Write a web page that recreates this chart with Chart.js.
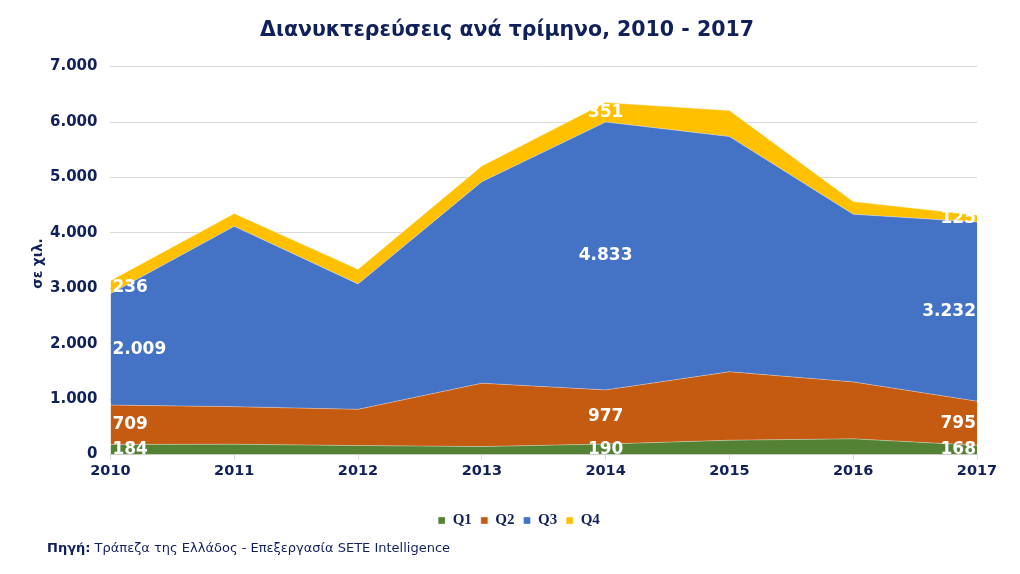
<!DOCTYPE html>
<html>
<head>
<meta charset="utf-8">
<script src="https://cdn.jsdelivr.net/npm/chart.js@4"></script>
<style>
  body { margin: 0; background: #fff; }
  #wrap { position: relative; width: 1020px; height: 574px; }
  #source {
    position: absolute; left: 47px; top: 540px;
    font-family: "DejaVu Sans", Verdana, sans-serif; font-size: 13px; color: #10205a;
  }
  #source b { font-weight: bold; }
</style>
</head>
<body>
<div id="wrap">
  <canvas id="myChart" width="1020" height="574"></canvas>
  <div id="source"><b>Πηγή:</b> Τράπεζα της Ελλάδος - Επεξεργασία SETE Intelligence</div>
</div>
<script>
var years = ['2010', '2011', '2012', '2013', '2014', '2015', '2016', '2017'];
var q1 = [184, 187, 163, 145, 190, 260, 284, 168];
var q2 = [709, 678, 653, 1143, 977, 1234, 1028, 795];
var q3 = [2009, 3253, 2262, 3634, 4833, 4244, 3024, 3232];
var q4 = [236, 230, 265, 284, 351, 471, 230, 125];
var labelledYears = ['2010', '2014', '2017'];

var navy = '#10205a';
var font = '"DejaVu Sans", Verdana, sans-serif';

function fmt(v) {
  return String(v).replace(/\B(?=(\d{3})+(?!\d))/g, '.');
}

// values written in the middle of each band, only for some years
var bandLabels = {
  id: 'bandLabels',
  afterDatasetsDraw: function(chart) {
    var ctx = chart.ctx;
    var x = chart.scales.x, y = chart.scales.y;
    ctx.save();
    ctx.font = 'bold 17px ' + font;
    ctx.fillStyle = '#fff';
    ctx.textBaseline = 'middle';
    labelledYears.forEach(function(yr) {
      var i = years.indexOf(yr);
      var px = x.getPixelForValue(i);
      var align = 'center';
      if (i === 0) { align = 'left'; px += 2; }
      if (i === years.length - 1) { align = 'right'; px -= 1; }
      ctx.textAlign = align;
      var base = 0;
      chart.data.datasets.forEach(function(ds) {
        var v = ds.data[i];
        var mid = y.getPixelForValue(base + v / 2);
        ctx.fillText(fmt(v), px, mid);
        base += v;
      });
    });
    ctx.restore();
  }
};

// unit label on the left, placed by hand like the original
var unitLabel = {
  id: 'unitLabel',
  afterDraw: function(chart) {
    var ctx = chart.ctx;
    var a = chart.chartArea;
    ctx.save();
    ctx.translate(38, (a.top + a.bottom) / 2 + 3);
    ctx.rotate(-Math.PI / 2);
    ctx.font = 'bold 13.5px ' + font;
    ctx.fillStyle = navy;
    ctx.textAlign = 'center';
    ctx.textBaseline = 'middle';
    ctx.fillText('σε χιλ.', 0, 0);
    ctx.restore();
  }
};

// legend sits a bit right of the centre in the original
var legendShift = {
  id: 'legendShift',
  beforeDraw: function(chart) {
    if (!chart.legend._shifted) {
      chart.legend.left += 12;
      chart.legend.right += 12;
      chart.legend._shifted = true;
    }
  },
  afterLayout: function(chart) { chart.legend._shifted = false; }
};

var chartdata = {
  labels: years,
  datasets: [
    { label: 'Q1', data: q1, backgroundColor: '#548235', borderColor: 'rgba(255,255,255,0.35)', fill: 'origin' },
    { label: 'Q2', data: q2, backgroundColor: '#c55a11', borderColor: 'rgba(255,255,255,0.35)', fill: '-1' },
    { label: 'Q3', data: q3, backgroundColor: '#4472c4', borderColor: 'rgba(255,255,255,0.35)', fill: '-1' },
    { label: 'Q4', data: q4, backgroundColor: '#ffc000', borderColor: 'rgba(255,255,255,0.35)', fill: '-1' }
  ]
};

var ctx = document.getElementById('myChart');

var areaChart = new Chart(ctx, {
  type: 'line',
  data: chartdata,
  plugins: [bandLabels, unitLabel, legendShift],
  options: {
    responsive: false,
    animation: false,
    elements: {
      line: { borderWidth: 1, tension: 0 },
      point: { radius: 0 }
    },
    layout: { padding: { left: 37, right: 43, top: 10, bottom: 36 } },
    plugins: {
      title: {
        display: true,
        text: 'Διανυκτερεύσεις ανά τρίμηνο, 2010 - 2017',
        color: navy,
        font: { family: font, size: 20.5, weight: 'bold' },
        padding: { top: 8, bottom: 24 }
      },
      legend: {
        position: 'bottom',
        labels: {
          color: navy,
          boxWidth: 7,
          boxHeight: 7,
          padding: 9,
          font: { family: '"Liberation Serif", serif', size: 15, weight: 'bold' }
        }
      },
      tooltip: { enabled: false }
    },
    scales: {
      x: {
        offset: false,
        afterFit: function(axis) { axis.height += 21; },
        grid: { display: true, drawOnChartArea: false, drawTicks: true, tickLength: 5, color: '#d9d9d9' },
        border: { color: '#d9d9d9' },
        ticks: { color: navy, padding: 3, maxRotation: 0, font: { family: font, size: 14.5, weight: 'bold' } }
      },
      y: {
        stacked: true,
        min: 0,
        max: 7000,
        grid: { color: '#d9d9d9', drawTicks: false },
        border: { display: false },
        ticks: {
          stepSize: 1000,
          color: navy,
          padding: 13,
          font: { family: font, size: 15, weight: 'bold' },
          callback: function(v) { return fmt(v); }
        }
      }
    }
  }
});
</script>
</body>
</html>
